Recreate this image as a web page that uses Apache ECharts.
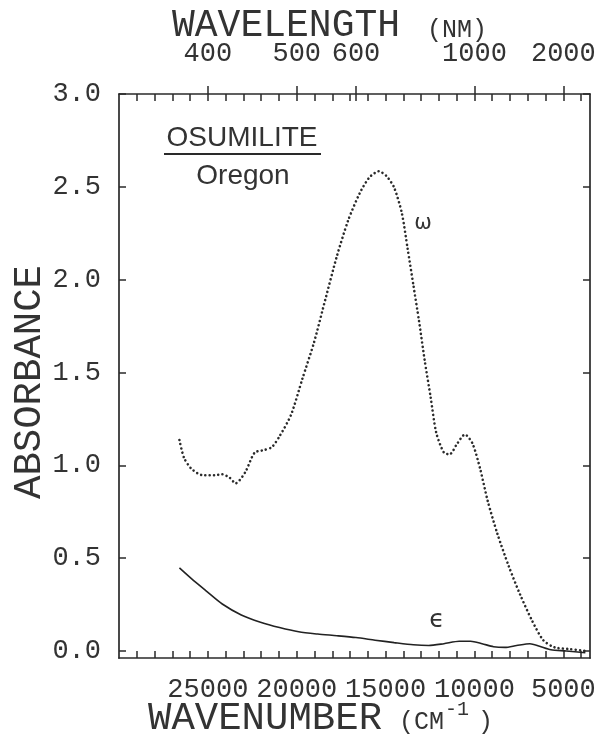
<!DOCTYPE html>
<html>
<head>
<meta charset="utf-8">
<script src="https://cdn.jsdelivr.net/npm/echarts@6/dist/echarts.min.js"></script>
<style>
html,body{margin:0;padding:0;background:#fff;}
#chart{width:602px;height:735px;}
</style>
</head>
<body>
<div id="chart"></div>
<script>
// Omega (dotted) spectrum: wavenumber (cm-1) and absorbance
var omegaWn = [26600,26340,25910,25270,24620,24190,23760,23440,22900,22370,21830,21400,20970,20320,19680,19030,18390,17740,17100,16450,15910,15380,14950,14520,14090,13760,13440,13120,12800,12470,12150,11720,11400,10970,10540,10110,9680,9250,8710,8070,7420,6770,6130,5480,4620,3760];
var omegaAbs = [1.136,1.04,0.98,0.946,0.946,0.952,0.932,0.903,0.962,1.068,1.082,1.098,1.156,1.272,1.467,1.661,1.894,2.127,2.321,2.467,2.551,2.584,2.558,2.496,2.36,2.166,1.972,1.777,1.564,1.369,1.175,1.068,1.059,1.117,1.166,1.117,0.981,0.806,0.631,0.456,0.301,0.165,0.058,0.019,0.01,0.0];
// Epsilon (solid) spectrum
var epsWn = [26600,25910,25050,24190,23120,22040,20970,19890,18820,17740,16670,15590,14520,13440,12580,11720,10860,10220,9570,8930,8280,7630,6880,6340,5700,4840,3760];
var epsAbs = [0.447,0.388,0.320,0.253,0.194,0.155,0.126,0.103,0.091,0.082,0.072,0.058,0.045,0.033,0.029,0.039,0.052,0.052,0.039,0.023,0.019,0.029,0.039,0.025,0.006,0.0,-0.01];
// Tick labels
var absTicks = [0,0.5,1.0,1.5,2.0,2.5,3.0];
var wnLabels = [25000,20000,15000,10000,5000];
var wlLabels = [400,500,600,1000,2000];
var wnMinorTicks = [29000,28000,27000,26000,25000,24000,23000,22000,21000,20000,19000,18000,17000,16000,15000,14000,13000,12000,11000,10000,9000,8000,7000,6000,5000,4000];

var wlAsWn = wlLabels.map(function(l){return 1e7/l;});
function pairs(xs, ys){ return xs.map(function(x,i){return [x, ys[i]];}); }

var INK = '#333';
var monoFont = 'Liberation Mono';
var XMIN = 3500, XMAX = 30000, YMIN = -0.038, YMAX = 3.0;
var G = {left:119, right:12, top:94, bottom:77, containLabel:false};
var tickStyle = {color:'#2a2a2a', width:1.5};
var lineStyle = {color:'#2a2a2a', width:1.7};

var chart = echarts.init(document.getElementById('chart'), null, {renderer:'canvas'});
chart.setOption({
  animation:false,
  backgroundColor:'#fff',
  grid:[
    echarts.util.extend({}, G),
    echarts.util.extend({}, G)
  ],
  xAxis:[
    { // bottom wavenumber axis
      gridIndex:0, type:'value', position:'bottom', min:XMIN, max:XMAX, inverse:true,
      axisLine:{show:true, onZero:false, lineStyle:lineStyle},
      axisTick:{show:true, inside:true, length:7, customValues:wnMinorTicks, lineStyle:tickStyle},
      axisLabel:{show:true, customValues:wnLabels, margin:18, color:INK, fontFamily:monoFont, fontSize:27,
        formatter:function(v){return String(Math.round(v));}},
      splitLine:{show:false}
    },
    { // top wavelength axis
      gridIndex:0, type:'value', position:'top', min:XMIN, max:XMAX, inverse:true,
      axisLine:{show:true, onZero:false, lineStyle:lineStyle},
      axisTick:{show:true, inside:true, length:7, customValues:wnMinorTicks.concat([1e7/600]), lineStyle:tickStyle},
      axisLabel:{show:true, customValues:wlAsWn, margin:27, color:INK, fontFamily:monoFont, fontSize:27,
        formatter:function(v){return String(Math.round(1e7/v));}},
      splitLine:{show:false}
    },
    { // top major wavelength tick marks crossing outward
      gridIndex:1, type:'value', position:'top', min:XMIN, max:XMAX, inverse:true,
      axisLine:{show:false, onZero:false},
      axisTick:{show:true, inside:false, length:8, customValues:wlAsWn, lineStyle:tickStyle},
      axisLabel:{show:false},
      splitLine:{show:false}
    }
  ],
  yAxis:[
    {
      gridIndex:0, type:'value', position:'left', min:YMIN, max:YMAX,
      axisLine:{show:true, onZero:false, lineStyle:lineStyle},
      axisTick:{show:true, inside:true, length:7, customValues:absTicks, lineStyle:tickStyle},
      axisLabel:{show:true, customValues:absTicks, margin:18, color:INK, fontFamily:monoFont, fontSize:27,
        formatter:function(v){return v.toFixed(1);}},
      splitLine:{show:false}
    },
    {
      gridIndex:0, type:'value', position:'right', min:YMIN, max:YMAX,
      axisLine:{show:true, onZero:false, lineStyle:lineStyle},
      axisTick:{show:true, inside:true, length:7, customValues:absTicks, lineStyle:tickStyle},
      axisLabel:{show:false},
      splitLine:{show:false}
    },
    {
      gridIndex:1, type:'value', position:'left', min:YMIN, max:YMAX, show:false
    }
  ],
  series:[
    {
      name:'omega', type:'line', xAxisIndex:0, yAxisIndex:0,
      data:pairs(omegaWn, omegaAbs), smooth:0.25, showSymbol:false,
      lineStyle:{color:'#2a2a2a', width:2.6, type:[0.01,4.3], cap:'round'}
    },
    {
      name:'epsilon', type:'line', xAxisIndex:0, yAxisIndex:0,
      data:pairs(epsWn, epsAbs), smooth:0.25, showSymbol:false,
      lineStyle:{color:'#222', width:1.6, type:'solid'}
    }
  ],
  graphic:[
    {type:'text', style:{text:'WAVELENGTH', x:172, y:26, font:'38px "Liberation Mono"', fill:INK, align:'left', verticalAlign:'middle'}},
    {type:'text', style:{text:'(NM)', x:427, y:30, font:'25px "Liberation Mono"', fill:INK, align:'left', verticalAlign:'middle'}},
    {type:'text', style:{text:'WAVENUMBER', x:148, y:719, font:'39px "Liberation Mono"', fill:INK, align:'left', verticalAlign:'middle'}},
    {type:'text', style:{text:'(CM', x:399, y:722, font:'25px "Liberation Mono"', fill:INK, align:'left', verticalAlign:'middle'}},
    {type:'text', style:{text:'-1', x:445, y:710, font:'20px "Liberation Mono"', fill:INK, align:'left', verticalAlign:'middle'}},
    {type:'text', style:{text:')', x:478, y:722, font:'25px "Liberation Mono"', fill:INK, align:'left', verticalAlign:'middle'}},
    {type:'text', x:30, y:382, rotation:Math.PI/2, style:{text:'ABSORBANCE', x:0, y:0, font:'39px "Liberation Mono"', fill:INK, align:'center', verticalAlign:'middle'}},
    {type:'text', style:{text:'OSUMILITE', x:242, y:138, font:'28px "Liberation Sans"', fill:INK, align:'center', verticalAlign:'middle'}},
    {type:'line', shape:{x1:164, y1:154, x2:321, y2:154}, style:{stroke:'#2a2a2a', lineWidth:2}},
    {type:'text', style:{text:'Oregon', x:243, y:176, font:'28px "Liberation Sans"', fill:INK, align:'center', verticalAlign:'middle'}},
    {type:'text', style:{text:'\u03C9', x:423, y:224, font:'21px "DejaVu Sans"', fill:INK, align:'center', verticalAlign:'middle'}},
    {type:'text', style:{text:'\u03F5', x:437, y:620, font:'25px "DejaVu Sans"', fill:INK, align:'center', verticalAlign:'middle'}}
  ]
});
</script>
</body>
</html>
